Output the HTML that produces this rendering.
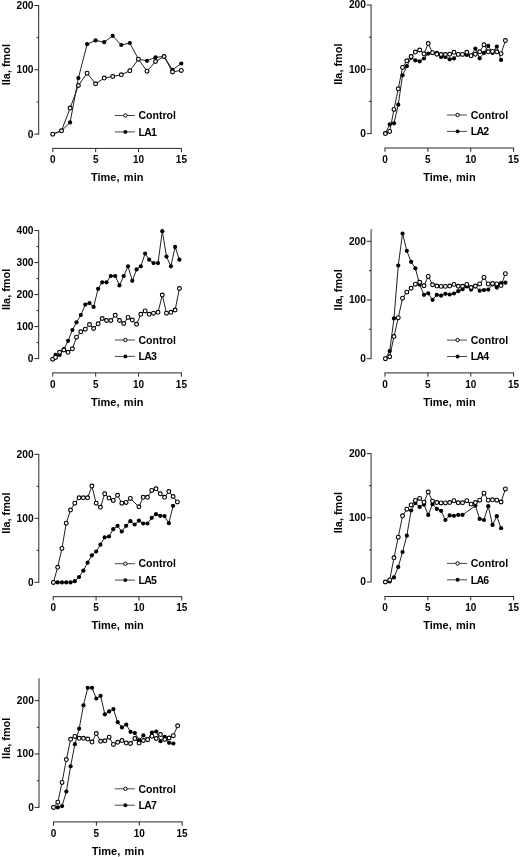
<!DOCTYPE html>
<html><head><meta charset="utf-8"><title>Figure</title>
<style>
html,body{margin:0;padding:0;background:#fff;}
body{width:520px;height:857px;overflow:hidden;font-family:'Liberation Sans', sans-serif;}
svg{display:block;filter:blur(0.35px);}
svg text{font-family:'Liberation Sans', sans-serif;font-weight:bold;fill:#000;}
</style></head>
<body>
<svg width="520" height="857" viewBox="0 0 520 857">
<rect width="520" height="857" fill="#fff"/>
<line x1="38.70" y1="5.10" x2="38.70" y2="134.50" stroke="#1c1c1c" stroke-width="0.95"/>
<line x1="34.40" y1="134.10" x2="38.70" y2="134.10" stroke="#1c1c1c" stroke-width="0.95"/>
<text x="33.50" y="137.55" font-size="10.2" text-anchor="end" >0</text>
<line x1="36.60" y1="101.95" x2="38.70" y2="101.95" stroke="#1c1c1c" stroke-width="0.95"/>
<line x1="34.40" y1="69.80" x2="38.70" y2="69.80" stroke="#1c1c1c" stroke-width="0.95"/>
<text x="33.50" y="73.25" font-size="10.2" text-anchor="end" >100</text>
<line x1="36.60" y1="37.65" x2="38.70" y2="37.65" stroke="#1c1c1c" stroke-width="0.95"/>
<line x1="34.40" y1="5.50" x2="38.70" y2="5.50" stroke="#1c1c1c" stroke-width="0.95"/>
<text x="33.50" y="8.95" font-size="10.2" text-anchor="end" >200</text>
<line x1="52.40" y1="148.40" x2="181.83" y2="148.40" stroke="#1c1c1c" stroke-width="0.95"/>
<line x1="52.80" y1="148.40" x2="52.80" y2="152.20" stroke="#1c1c1c" stroke-width="0.95"/>
<text x="52.80" y="163.00" font-size="10.0" text-anchor="middle" >0</text>
<line x1="95.67" y1="148.40" x2="95.67" y2="152.20" stroke="#1c1c1c" stroke-width="0.95"/>
<text x="95.67" y="163.00" font-size="10.0" text-anchor="middle" >5</text>
<line x1="138.55" y1="148.40" x2="138.55" y2="152.20" stroke="#1c1c1c" stroke-width="0.95"/>
<text x="138.55" y="163.00" font-size="10.0" text-anchor="middle" >10</text>
<line x1="181.43" y1="148.40" x2="181.43" y2="152.20" stroke="#1c1c1c" stroke-width="0.95"/>
<text x="181.43" y="163.00" font-size="10.0" text-anchor="middle" >15</text>
<text x="117.21" y="181.15" font-size="11.0" text-anchor="middle" word-spacing="1.3">Time, min</text>
<text transform="translate(9.90,64.60) rotate(-90)" font-size="10.9" text-anchor="middle">IIa, fmol</text>
<line x1="114.80" y1="115.50" x2="134.80" y2="115.50" stroke="#333" stroke-width="0.9"/>
<circle cx="125.40" cy="115.50" r="1.7" fill="#fff" stroke="#000" stroke-width="1.0"/>
<text x="138.50" y="119.25" font-size="10.55" text-anchor="start" >Control</text>
<line x1="114.80" y1="131.90" x2="134.80" y2="131.90" stroke="#333" stroke-width="0.9"/>
<circle cx="125.40" cy="131.90" r="1.95" fill="#000"/>
<text x="138.50" y="135.65" font-size="10.55" text-anchor="start" letter-spacing="-0.75">LA1</text>
<polyline points="52.70,134.20 61.50,130.80 70.10,122.40 78.40,78.10 87.10,44.20 95.60,40.40 104.20,42.20 112.70,35.80 121.30,45.00 129.80,43.00 138.40,59.20 147.00,60.80 155.50,57.30 164.10,56.50 172.50,69.90 181.30,63.50" fill="none" stroke="#141414" stroke-width="0.95" stroke-linejoin="round"/>
<circle cx="52.70" cy="134.20" r="2.1" fill="#000"/>
<circle cx="61.50" cy="130.80" r="2.1" fill="#000"/>
<circle cx="70.10" cy="122.40" r="2.1" fill="#000"/>
<circle cx="78.40" cy="78.10" r="2.1" fill="#000"/>
<circle cx="87.10" cy="44.20" r="2.1" fill="#000"/>
<circle cx="95.60" cy="40.40" r="2.1" fill="#000"/>
<circle cx="104.20" cy="42.20" r="2.1" fill="#000"/>
<circle cx="112.70" cy="35.80" r="2.1" fill="#000"/>
<circle cx="121.30" cy="45.00" r="2.1" fill="#000"/>
<circle cx="129.80" cy="43.00" r="2.1" fill="#000"/>
<circle cx="138.40" cy="59.20" r="2.1" fill="#000"/>
<circle cx="147.00" cy="60.80" r="2.1" fill="#000"/>
<circle cx="155.50" cy="57.30" r="2.1" fill="#000"/>
<circle cx="164.10" cy="56.50" r="2.1" fill="#000"/>
<circle cx="172.50" cy="69.90" r="2.1" fill="#000"/>
<circle cx="181.30" cy="63.50" r="2.1" fill="#000"/>
<polyline points="52.70,134.20 61.50,130.80 70.10,108.10 78.40,85.50 87.10,73.20 95.60,83.80 104.20,78.10 112.70,76.50 121.30,74.80 129.80,70.80 138.40,59.20 147.00,71.20 155.50,61.50 164.10,56.50 172.50,71.90 181.30,70.40" fill="none" stroke="#141414" stroke-width="0.95" stroke-linejoin="round"/>
<circle cx="52.70" cy="134.20" r="1.92" fill="#fff" stroke="#000" stroke-width="1.12"/>
<circle cx="61.50" cy="130.80" r="1.92" fill="#fff" stroke="#000" stroke-width="1.12"/>
<circle cx="70.10" cy="108.10" r="1.92" fill="#fff" stroke="#000" stroke-width="1.12"/>
<circle cx="78.40" cy="85.50" r="1.92" fill="#fff" stroke="#000" stroke-width="1.12"/>
<circle cx="87.10" cy="73.20" r="1.92" fill="#fff" stroke="#000" stroke-width="1.12"/>
<circle cx="95.60" cy="83.80" r="1.92" fill="#fff" stroke="#000" stroke-width="1.12"/>
<circle cx="104.20" cy="78.10" r="1.92" fill="#fff" stroke="#000" stroke-width="1.12"/>
<circle cx="112.70" cy="76.50" r="1.92" fill="#fff" stroke="#000" stroke-width="1.12"/>
<circle cx="121.30" cy="74.80" r="1.92" fill="#fff" stroke="#000" stroke-width="1.12"/>
<circle cx="129.80" cy="70.80" r="1.92" fill="#fff" stroke="#000" stroke-width="1.12"/>
<circle cx="138.40" cy="59.20" r="1.92" fill="#fff" stroke="#000" stroke-width="1.12"/>
<circle cx="147.00" cy="71.20" r="1.92" fill="#fff" stroke="#000" stroke-width="1.12"/>
<circle cx="155.50" cy="61.50" r="1.92" fill="#fff" stroke="#000" stroke-width="1.12"/>
<circle cx="164.10" cy="56.50" r="1.92" fill="#fff" stroke="#000" stroke-width="1.12"/>
<circle cx="172.50" cy="71.90" r="1.92" fill="#fff" stroke="#000" stroke-width="1.12"/>
<circle cx="181.30" cy="70.40" r="1.92" fill="#fff" stroke="#000" stroke-width="1.12"/>
<line x1="371.10" y1="4.60" x2="371.10" y2="134.00" stroke="#1c1c1c" stroke-width="0.95"/>
<line x1="366.80" y1="133.60" x2="371.10" y2="133.60" stroke="#1c1c1c" stroke-width="0.95"/>
<text x="365.90" y="137.05" font-size="10.2" text-anchor="end" >0</text>
<line x1="369.00" y1="101.45" x2="371.10" y2="101.45" stroke="#1c1c1c" stroke-width="0.95"/>
<line x1="366.80" y1="69.30" x2="371.10" y2="69.30" stroke="#1c1c1c" stroke-width="0.95"/>
<text x="365.90" y="72.75" font-size="10.2" text-anchor="end" >100</text>
<line x1="369.00" y1="37.15" x2="371.10" y2="37.15" stroke="#1c1c1c" stroke-width="0.95"/>
<line x1="366.80" y1="5.00" x2="371.10" y2="5.00" stroke="#1c1c1c" stroke-width="0.95"/>
<text x="365.90" y="8.45" font-size="10.2" text-anchor="end" >200</text>
<line x1="384.60" y1="148.00" x2="514.02" y2="148.00" stroke="#1c1c1c" stroke-width="0.95"/>
<line x1="385.00" y1="148.00" x2="385.00" y2="151.80" stroke="#1c1c1c" stroke-width="0.95"/>
<text x="385.00" y="162.60" font-size="10.0" text-anchor="middle" >0</text>
<line x1="427.88" y1="148.00" x2="427.88" y2="151.80" stroke="#1c1c1c" stroke-width="0.95"/>
<text x="427.88" y="162.60" font-size="10.0" text-anchor="middle" >5</text>
<line x1="470.75" y1="148.00" x2="470.75" y2="151.80" stroke="#1c1c1c" stroke-width="0.95"/>
<text x="470.75" y="162.60" font-size="10.0" text-anchor="middle" >10</text>
<line x1="513.62" y1="148.00" x2="513.62" y2="151.80" stroke="#1c1c1c" stroke-width="0.95"/>
<text x="513.62" y="162.60" font-size="10.0" text-anchor="middle" >15</text>
<text x="449.41" y="180.75" font-size="11.0" text-anchor="middle" word-spacing="1.3">Time, min</text>
<text transform="translate(341.70,64.10) rotate(-90)" font-size="10.9" text-anchor="middle">IIa, fmol</text>
<line x1="447.00" y1="115.00" x2="467.00" y2="115.00" stroke="#333" stroke-width="0.9"/>
<circle cx="457.60" cy="115.00" r="1.7" fill="#fff" stroke="#000" stroke-width="1.0"/>
<text x="470.70" y="118.75" font-size="10.55" text-anchor="start" >Control</text>
<line x1="447.00" y1="131.40" x2="467.00" y2="131.40" stroke="#333" stroke-width="0.9"/>
<circle cx="457.60" cy="131.40" r="1.95" fill="#000"/>
<text x="470.70" y="135.15" font-size="10.55" text-anchor="start" letter-spacing="-0.75">LA2</text>
<polyline points="385.40,133.40 389.69,124.30 393.97,123.30 398.25,104.70 402.54,75.30 406.82,66.20 411.11,57.80 415.39,60.30 419.68,61.30 423.96,58.50 428.25,53.60 432.53,52.90 436.82,52.80 441.10,56.90 445.39,56.90 449.67,59.30 453.96,58.40 458.25,54.50 462.53,54.50 466.81,55.00 471.10,55.50 475.38,48.60 479.67,58.30 483.95,52.90 488.24,45.90 492.52,53.00 496.81,46.50 501.09,59.90" fill="none" stroke="#141414" stroke-width="0.95" stroke-linejoin="round"/>
<circle cx="385.40" cy="133.40" r="2.1" fill="#000"/>
<circle cx="389.69" cy="124.30" r="2.1" fill="#000"/>
<circle cx="393.97" cy="123.30" r="2.1" fill="#000"/>
<circle cx="398.25" cy="104.70" r="2.1" fill="#000"/>
<circle cx="402.54" cy="75.30" r="2.1" fill="#000"/>
<circle cx="406.82" cy="66.20" r="2.1" fill="#000"/>
<circle cx="411.11" cy="57.80" r="2.1" fill="#000"/>
<circle cx="415.39" cy="60.30" r="2.1" fill="#000"/>
<circle cx="419.68" cy="61.30" r="2.1" fill="#000"/>
<circle cx="423.96" cy="58.50" r="2.1" fill="#000"/>
<circle cx="428.25" cy="53.60" r="2.1" fill="#000"/>
<circle cx="432.53" cy="52.90" r="2.1" fill="#000"/>
<circle cx="436.82" cy="52.80" r="2.1" fill="#000"/>
<circle cx="441.10" cy="56.90" r="2.1" fill="#000"/>
<circle cx="445.39" cy="56.90" r="2.1" fill="#000"/>
<circle cx="449.67" cy="59.30" r="2.1" fill="#000"/>
<circle cx="453.96" cy="58.40" r="2.1" fill="#000"/>
<circle cx="458.25" cy="54.50" r="2.1" fill="#000"/>
<circle cx="462.53" cy="54.50" r="2.1" fill="#000"/>
<circle cx="466.81" cy="55.00" r="2.1" fill="#000"/>
<circle cx="471.10" cy="55.50" r="2.1" fill="#000"/>
<circle cx="475.38" cy="48.60" r="2.1" fill="#000"/>
<circle cx="479.67" cy="58.30" r="2.1" fill="#000"/>
<circle cx="483.95" cy="52.90" r="2.1" fill="#000"/>
<circle cx="488.24" cy="45.90" r="2.1" fill="#000"/>
<circle cx="492.52" cy="53.00" r="2.1" fill="#000"/>
<circle cx="496.81" cy="46.50" r="2.1" fill="#000"/>
<circle cx="501.09" cy="59.90" r="2.1" fill="#000"/>
<polyline points="385.40,133.60 389.69,131.48 393.97,109.40 398.25,88.79 402.54,67.41 406.82,60.80 411.11,56.56 415.39,52.07 419.68,50.01 423.96,53.80 428.25,43.59 432.53,52.71 436.82,54.18 441.10,54.51 445.39,54.51 449.67,54.18 453.96,52.32 458.25,54.38 462.53,54.38 466.81,52.32 471.10,55.73 475.38,54.18 479.67,51.81 483.95,44.75 488.24,51.81 492.52,51.42 496.81,51.81 501.09,53.61 505.38,40.57" fill="none" stroke="#141414" stroke-width="0.95" stroke-linejoin="round"/>
<circle cx="385.40" cy="133.60" r="1.92" fill="#fff" stroke="#000" stroke-width="1.12"/>
<circle cx="389.69" cy="131.48" r="1.92" fill="#fff" stroke="#000" stroke-width="1.12"/>
<circle cx="393.97" cy="109.40" r="1.92" fill="#fff" stroke="#000" stroke-width="1.12"/>
<circle cx="398.25" cy="88.79" r="1.92" fill="#fff" stroke="#000" stroke-width="1.12"/>
<circle cx="402.54" cy="67.41" r="1.92" fill="#fff" stroke="#000" stroke-width="1.12"/>
<circle cx="406.82" cy="60.80" r="1.92" fill="#fff" stroke="#000" stroke-width="1.12"/>
<circle cx="411.11" cy="56.56" r="1.92" fill="#fff" stroke="#000" stroke-width="1.12"/>
<circle cx="415.39" cy="52.07" r="1.92" fill="#fff" stroke="#000" stroke-width="1.12"/>
<circle cx="419.68" cy="50.01" r="1.92" fill="#fff" stroke="#000" stroke-width="1.12"/>
<circle cx="423.96" cy="53.80" r="1.92" fill="#fff" stroke="#000" stroke-width="1.12"/>
<circle cx="428.25" cy="43.59" r="1.92" fill="#fff" stroke="#000" stroke-width="1.12"/>
<circle cx="432.53" cy="52.71" r="1.92" fill="#fff" stroke="#000" stroke-width="1.12"/>
<circle cx="436.82" cy="54.18" r="1.92" fill="#fff" stroke="#000" stroke-width="1.12"/>
<circle cx="441.10" cy="54.51" r="1.92" fill="#fff" stroke="#000" stroke-width="1.12"/>
<circle cx="445.39" cy="54.51" r="1.92" fill="#fff" stroke="#000" stroke-width="1.12"/>
<circle cx="449.67" cy="54.18" r="1.92" fill="#fff" stroke="#000" stroke-width="1.12"/>
<circle cx="453.96" cy="52.32" r="1.92" fill="#fff" stroke="#000" stroke-width="1.12"/>
<circle cx="458.25" cy="54.38" r="1.92" fill="#fff" stroke="#000" stroke-width="1.12"/>
<circle cx="462.53" cy="54.38" r="1.92" fill="#fff" stroke="#000" stroke-width="1.12"/>
<circle cx="466.81" cy="52.32" r="1.92" fill="#fff" stroke="#000" stroke-width="1.12"/>
<circle cx="471.10" cy="55.73" r="1.92" fill="#fff" stroke="#000" stroke-width="1.12"/>
<circle cx="475.38" cy="54.18" r="1.92" fill="#fff" stroke="#000" stroke-width="1.12"/>
<circle cx="479.67" cy="51.81" r="1.92" fill="#fff" stroke="#000" stroke-width="1.12"/>
<circle cx="483.95" cy="44.75" r="1.92" fill="#fff" stroke="#000" stroke-width="1.12"/>
<circle cx="488.24" cy="51.81" r="1.92" fill="#fff" stroke="#000" stroke-width="1.12"/>
<circle cx="492.52" cy="51.42" r="1.92" fill="#fff" stroke="#000" stroke-width="1.12"/>
<circle cx="496.81" cy="51.81" r="1.92" fill="#fff" stroke="#000" stroke-width="1.12"/>
<circle cx="501.09" cy="53.61" r="1.92" fill="#fff" stroke="#000" stroke-width="1.12"/>
<circle cx="505.38" cy="40.57" r="1.92" fill="#fff" stroke="#000" stroke-width="1.12"/>
<line x1="38.70" y1="230.10" x2="38.70" y2="359.00" stroke="#1c1c1c" stroke-width="0.95"/>
<line x1="34.40" y1="358.60" x2="38.70" y2="358.60" stroke="#1c1c1c" stroke-width="0.95"/>
<text x="33.50" y="362.05" font-size="10.2" text-anchor="end" >0</text>
<line x1="36.60" y1="342.60" x2="38.70" y2="342.60" stroke="#1c1c1c" stroke-width="0.95"/>
<line x1="34.40" y1="326.60" x2="38.70" y2="326.60" stroke="#1c1c1c" stroke-width="0.95"/>
<text x="33.50" y="330.05" font-size="10.2" text-anchor="end" >100</text>
<line x1="36.60" y1="310.60" x2="38.70" y2="310.60" stroke="#1c1c1c" stroke-width="0.95"/>
<line x1="34.40" y1="294.60" x2="38.70" y2="294.60" stroke="#1c1c1c" stroke-width="0.95"/>
<text x="33.50" y="298.05" font-size="10.2" text-anchor="end" >200</text>
<line x1="36.60" y1="278.60" x2="38.70" y2="278.60" stroke="#1c1c1c" stroke-width="0.95"/>
<line x1="34.40" y1="262.60" x2="38.70" y2="262.60" stroke="#1c1c1c" stroke-width="0.95"/>
<text x="33.50" y="266.05" font-size="10.2" text-anchor="end" >300</text>
<line x1="36.60" y1="246.60" x2="38.70" y2="246.60" stroke="#1c1c1c" stroke-width="0.95"/>
<line x1="34.40" y1="230.60" x2="38.70" y2="230.60" stroke="#1c1c1c" stroke-width="0.95"/>
<text x="33.50" y="234.05" font-size="10.2" text-anchor="end" >400</text>
<line x1="52.40" y1="372.90" x2="181.83" y2="372.90" stroke="#1c1c1c" stroke-width="0.95"/>
<line x1="52.80" y1="372.90" x2="52.80" y2="376.70" stroke="#1c1c1c" stroke-width="0.95"/>
<text x="52.80" y="387.50" font-size="10.0" text-anchor="middle" >0</text>
<line x1="95.67" y1="372.90" x2="95.67" y2="376.70" stroke="#1c1c1c" stroke-width="0.95"/>
<text x="95.67" y="387.50" font-size="10.0" text-anchor="middle" >5</text>
<line x1="138.55" y1="372.90" x2="138.55" y2="376.70" stroke="#1c1c1c" stroke-width="0.95"/>
<text x="138.55" y="387.50" font-size="10.0" text-anchor="middle" >10</text>
<line x1="181.43" y1="372.90" x2="181.43" y2="376.70" stroke="#1c1c1c" stroke-width="0.95"/>
<text x="181.43" y="387.50" font-size="10.0" text-anchor="middle" >15</text>
<text x="117.21" y="405.65" font-size="11.0" text-anchor="middle" word-spacing="1.3">Time, min</text>
<text transform="translate(9.90,289.35) rotate(-90)" font-size="10.9" text-anchor="middle">IIa, fmol</text>
<line x1="114.80" y1="340.00" x2="134.80" y2="340.00" stroke="#333" stroke-width="0.9"/>
<circle cx="125.40" cy="340.00" r="1.7" fill="#fff" stroke="#000" stroke-width="1.0"/>
<text x="138.50" y="343.75" font-size="10.55" text-anchor="start" >Control</text>
<line x1="114.80" y1="356.40" x2="134.80" y2="356.40" stroke="#333" stroke-width="0.9"/>
<circle cx="125.40" cy="356.40" r="1.95" fill="#000"/>
<text x="138.50" y="360.15" font-size="10.55" text-anchor="start" letter-spacing="-0.75">LA3</text>
<polyline points="52.70,359.20 55.50,354.90 59.60,354.90 63.90,349.20 68.10,340.80 72.40,330.00 76.50,322.30 80.80,315.10 85.30,304.60 89.50,303.10 93.60,306.90 98.10,288.80 102.20,282.30 106.50,282.30 110.80,276.00 115.20,276.00 119.50,285.40 123.70,276.00 128.00,266.30 132.30,280.80 136.60,269.40 140.80,266.30 145.10,253.50 149.20,259.70 153.50,263.10 158.00,263.10 162.30,231.20 166.50,256.60 170.90,266.30 175.10,246.90 179.40,259.70" fill="none" stroke="#141414" stroke-width="0.95" stroke-linejoin="round"/>
<circle cx="52.70" cy="359.20" r="2.1" fill="#000"/>
<circle cx="55.50" cy="354.90" r="2.1" fill="#000"/>
<circle cx="59.60" cy="354.90" r="2.1" fill="#000"/>
<circle cx="63.90" cy="349.20" r="2.1" fill="#000"/>
<circle cx="68.10" cy="340.80" r="2.1" fill="#000"/>
<circle cx="72.40" cy="330.00" r="2.1" fill="#000"/>
<circle cx="76.50" cy="322.30" r="2.1" fill="#000"/>
<circle cx="80.80" cy="315.10" r="2.1" fill="#000"/>
<circle cx="85.30" cy="304.60" r="2.1" fill="#000"/>
<circle cx="89.50" cy="303.10" r="2.1" fill="#000"/>
<circle cx="93.60" cy="306.90" r="2.1" fill="#000"/>
<circle cx="98.10" cy="288.80" r="2.1" fill="#000"/>
<circle cx="102.20" cy="282.30" r="2.1" fill="#000"/>
<circle cx="106.50" cy="282.30" r="2.1" fill="#000"/>
<circle cx="110.80" cy="276.00" r="2.1" fill="#000"/>
<circle cx="115.20" cy="276.00" r="2.1" fill="#000"/>
<circle cx="119.50" cy="285.40" r="2.1" fill="#000"/>
<circle cx="123.70" cy="276.00" r="2.1" fill="#000"/>
<circle cx="128.00" cy="266.30" r="2.1" fill="#000"/>
<circle cx="132.30" cy="280.80" r="2.1" fill="#000"/>
<circle cx="136.60" cy="269.40" r="2.1" fill="#000"/>
<circle cx="140.80" cy="266.30" r="2.1" fill="#000"/>
<circle cx="145.10" cy="253.50" r="2.1" fill="#000"/>
<circle cx="149.20" cy="259.70" r="2.1" fill="#000"/>
<circle cx="153.50" cy="263.10" r="2.1" fill="#000"/>
<circle cx="158.00" cy="263.10" r="2.1" fill="#000"/>
<circle cx="162.30" cy="231.20" r="2.1" fill="#000"/>
<circle cx="166.50" cy="256.60" r="2.1" fill="#000"/>
<circle cx="170.90" cy="266.30" r="2.1" fill="#000"/>
<circle cx="175.10" cy="246.90" r="2.1" fill="#000"/>
<circle cx="179.40" cy="259.70" r="2.1" fill="#000"/>
<polyline points="52.70,359.20 55.50,357.40 59.60,352.30 63.90,350.00 68.10,352.30 72.40,348.80 76.50,337.20 80.80,331.80 85.30,329.20 89.50,324.60 93.60,328.50 98.10,323.80 102.20,318.50 106.50,320.50 110.80,320.50 115.20,315.30 119.50,320.50 123.70,323.50 128.00,317.40 132.30,320.00 136.60,324.30 140.80,314.30 145.10,310.90 149.20,314.30 153.50,313.20 158.00,312.30 162.30,295.10 166.50,313.20 170.90,312.30 175.10,310.00 179.40,288.50" fill="none" stroke="#141414" stroke-width="0.95" stroke-linejoin="round"/>
<circle cx="52.70" cy="359.20" r="1.92" fill="#fff" stroke="#000" stroke-width="1.12"/>
<circle cx="55.50" cy="357.40" r="1.92" fill="#fff" stroke="#000" stroke-width="1.12"/>
<circle cx="59.60" cy="352.30" r="1.92" fill="#fff" stroke="#000" stroke-width="1.12"/>
<circle cx="63.90" cy="350.00" r="1.92" fill="#fff" stroke="#000" stroke-width="1.12"/>
<circle cx="68.10" cy="352.30" r="1.92" fill="#fff" stroke="#000" stroke-width="1.12"/>
<circle cx="72.40" cy="348.80" r="1.92" fill="#fff" stroke="#000" stroke-width="1.12"/>
<circle cx="76.50" cy="337.20" r="1.92" fill="#fff" stroke="#000" stroke-width="1.12"/>
<circle cx="80.80" cy="331.80" r="1.92" fill="#fff" stroke="#000" stroke-width="1.12"/>
<circle cx="85.30" cy="329.20" r="1.92" fill="#fff" stroke="#000" stroke-width="1.12"/>
<circle cx="89.50" cy="324.60" r="1.92" fill="#fff" stroke="#000" stroke-width="1.12"/>
<circle cx="93.60" cy="328.50" r="1.92" fill="#fff" stroke="#000" stroke-width="1.12"/>
<circle cx="98.10" cy="323.80" r="1.92" fill="#fff" stroke="#000" stroke-width="1.12"/>
<circle cx="102.20" cy="318.50" r="1.92" fill="#fff" stroke="#000" stroke-width="1.12"/>
<circle cx="106.50" cy="320.50" r="1.92" fill="#fff" stroke="#000" stroke-width="1.12"/>
<circle cx="110.80" cy="320.50" r="1.92" fill="#fff" stroke="#000" stroke-width="1.12"/>
<circle cx="115.20" cy="315.30" r="1.92" fill="#fff" stroke="#000" stroke-width="1.12"/>
<circle cx="119.50" cy="320.50" r="1.92" fill="#fff" stroke="#000" stroke-width="1.12"/>
<circle cx="123.70" cy="323.50" r="1.92" fill="#fff" stroke="#000" stroke-width="1.12"/>
<circle cx="128.00" cy="317.40" r="1.92" fill="#fff" stroke="#000" stroke-width="1.12"/>
<circle cx="132.30" cy="320.00" r="1.92" fill="#fff" stroke="#000" stroke-width="1.12"/>
<circle cx="136.60" cy="324.30" r="1.92" fill="#fff" stroke="#000" stroke-width="1.12"/>
<circle cx="140.80" cy="314.30" r="1.92" fill="#fff" stroke="#000" stroke-width="1.12"/>
<circle cx="145.10" cy="310.90" r="1.92" fill="#fff" stroke="#000" stroke-width="1.12"/>
<circle cx="149.20" cy="314.30" r="1.92" fill="#fff" stroke="#000" stroke-width="1.12"/>
<circle cx="153.50" cy="313.20" r="1.92" fill="#fff" stroke="#000" stroke-width="1.12"/>
<circle cx="158.00" cy="312.30" r="1.92" fill="#fff" stroke="#000" stroke-width="1.12"/>
<circle cx="162.30" cy="295.10" r="1.92" fill="#fff" stroke="#000" stroke-width="1.12"/>
<circle cx="166.50" cy="313.20" r="1.92" fill="#fff" stroke="#000" stroke-width="1.12"/>
<circle cx="170.90" cy="312.30" r="1.92" fill="#fff" stroke="#000" stroke-width="1.12"/>
<circle cx="175.10" cy="310.00" r="1.92" fill="#fff" stroke="#000" stroke-width="1.12"/>
<circle cx="179.40" cy="288.50" r="1.92" fill="#fff" stroke="#000" stroke-width="1.12"/>
<line x1="371.10" y1="229.10" x2="371.10" y2="359.10" stroke="#1c1c1c" stroke-width="0.95"/>
<line x1="366.80" y1="358.70" x2="371.10" y2="358.70" stroke="#1c1c1c" stroke-width="0.95"/>
<text x="365.90" y="362.15" font-size="10.2" text-anchor="end" >0</text>
<line x1="369.00" y1="329.34" x2="371.10" y2="329.34" stroke="#1c1c1c" stroke-width="0.95"/>
<line x1="366.80" y1="299.98" x2="371.10" y2="299.98" stroke="#1c1c1c" stroke-width="0.95"/>
<text x="365.90" y="303.43" font-size="10.2" text-anchor="end" >100</text>
<line x1="369.00" y1="270.62" x2="371.10" y2="270.62" stroke="#1c1c1c" stroke-width="0.95"/>
<line x1="366.80" y1="241.26" x2="371.10" y2="241.26" stroke="#1c1c1c" stroke-width="0.95"/>
<text x="365.90" y="244.71" font-size="10.2" text-anchor="end" >200</text>
<line x1="384.60" y1="372.90" x2="514.02" y2="372.90" stroke="#1c1c1c" stroke-width="0.95"/>
<line x1="385.00" y1="372.90" x2="385.00" y2="376.70" stroke="#1c1c1c" stroke-width="0.95"/>
<text x="385.00" y="387.50" font-size="10.0" text-anchor="middle" >0</text>
<line x1="427.88" y1="372.90" x2="427.88" y2="376.70" stroke="#1c1c1c" stroke-width="0.95"/>
<text x="427.88" y="387.50" font-size="10.0" text-anchor="middle" >5</text>
<line x1="470.75" y1="372.90" x2="470.75" y2="376.70" stroke="#1c1c1c" stroke-width="0.95"/>
<text x="470.75" y="387.50" font-size="10.0" text-anchor="middle" >10</text>
<line x1="513.62" y1="372.90" x2="513.62" y2="376.70" stroke="#1c1c1c" stroke-width="0.95"/>
<text x="513.62" y="387.50" font-size="10.0" text-anchor="middle" >15</text>
<text x="449.41" y="405.65" font-size="11.0" text-anchor="middle" word-spacing="1.3">Time, min</text>
<text transform="translate(341.70,289.80) rotate(-90)" font-size="10.9" text-anchor="middle">IIa, fmol</text>
<line x1="447.00" y1="340.10" x2="467.00" y2="340.10" stroke="#333" stroke-width="0.9"/>
<circle cx="457.60" cy="340.10" r="1.7" fill="#fff" stroke="#000" stroke-width="1.0"/>
<text x="470.70" y="343.85" font-size="10.55" text-anchor="start" >Control</text>
<line x1="447.00" y1="356.50" x2="467.00" y2="356.50" stroke="#333" stroke-width="0.9"/>
<circle cx="457.60" cy="356.50" r="1.95" fill="#000"/>
<text x="470.70" y="360.25" font-size="10.55" text-anchor="start" letter-spacing="-0.75">LA4</text>
<polyline points="385.40,358.60 389.69,351.10 393.97,318.40 398.25,265.50 402.54,233.50 406.82,250.80 411.11,261.80 415.39,268.30 419.68,284.60 423.96,294.80 428.25,293.30 432.53,299.80 436.82,294.80 441.10,295.70 445.39,293.80 449.67,294.50 453.96,293.50 458.25,291.20 462.53,289.20 466.81,286.50 471.10,289.60 475.38,286.50 479.67,290.70 483.95,290.10 488.24,289.60 492.52,284.50 496.81,287.60 501.09,283.20 505.38,282.70" fill="none" stroke="#141414" stroke-width="0.95" stroke-linejoin="round"/>
<circle cx="385.40" cy="358.60" r="2.1" fill="#000"/>
<circle cx="389.69" cy="351.10" r="2.1" fill="#000"/>
<circle cx="393.97" cy="318.40" r="2.1" fill="#000"/>
<circle cx="398.25" cy="265.50" r="2.1" fill="#000"/>
<circle cx="402.54" cy="233.50" r="2.1" fill="#000"/>
<circle cx="406.82" cy="250.80" r="2.1" fill="#000"/>
<circle cx="411.11" cy="261.80" r="2.1" fill="#000"/>
<circle cx="415.39" cy="268.30" r="2.1" fill="#000"/>
<circle cx="419.68" cy="284.60" r="2.1" fill="#000"/>
<circle cx="423.96" cy="294.80" r="2.1" fill="#000"/>
<circle cx="428.25" cy="293.30" r="2.1" fill="#000"/>
<circle cx="432.53" cy="299.80" r="2.1" fill="#000"/>
<circle cx="436.82" cy="294.80" r="2.1" fill="#000"/>
<circle cx="441.10" cy="295.70" r="2.1" fill="#000"/>
<circle cx="445.39" cy="293.80" r="2.1" fill="#000"/>
<circle cx="449.67" cy="294.50" r="2.1" fill="#000"/>
<circle cx="453.96" cy="293.50" r="2.1" fill="#000"/>
<circle cx="458.25" cy="291.20" r="2.1" fill="#000"/>
<circle cx="462.53" cy="289.20" r="2.1" fill="#000"/>
<circle cx="466.81" cy="286.50" r="2.1" fill="#000"/>
<circle cx="471.10" cy="289.60" r="2.1" fill="#000"/>
<circle cx="475.38" cy="286.50" r="2.1" fill="#000"/>
<circle cx="479.67" cy="290.70" r="2.1" fill="#000"/>
<circle cx="483.95" cy="290.10" r="2.1" fill="#000"/>
<circle cx="488.24" cy="289.60" r="2.1" fill="#000"/>
<circle cx="492.52" cy="284.50" r="2.1" fill="#000"/>
<circle cx="496.81" cy="287.60" r="2.1" fill="#000"/>
<circle cx="501.09" cy="283.20" r="2.1" fill="#000"/>
<circle cx="505.38" cy="282.70" r="2.1" fill="#000"/>
<polyline points="385.40,358.70 389.69,356.76 393.97,336.57 398.25,317.73 402.54,298.18 406.82,292.13 411.11,288.26 415.39,284.15 419.68,282.27 423.96,285.74 428.25,276.40 432.53,284.74 436.82,286.09 441.10,286.38 445.39,286.38 449.67,286.09 453.96,284.39 458.25,286.26 462.53,286.26 466.81,284.39 471.10,287.50 475.38,286.09 479.67,283.92 483.95,277.46 488.24,283.92 492.52,283.56 496.81,283.92 501.09,285.56 505.38,273.64" fill="none" stroke="#141414" stroke-width="0.95" stroke-linejoin="round"/>
<circle cx="385.40" cy="358.70" r="1.92" fill="#fff" stroke="#000" stroke-width="1.12"/>
<circle cx="389.69" cy="356.76" r="1.92" fill="#fff" stroke="#000" stroke-width="1.12"/>
<circle cx="393.97" cy="336.57" r="1.92" fill="#fff" stroke="#000" stroke-width="1.12"/>
<circle cx="398.25" cy="317.73" r="1.92" fill="#fff" stroke="#000" stroke-width="1.12"/>
<circle cx="402.54" cy="298.18" r="1.92" fill="#fff" stroke="#000" stroke-width="1.12"/>
<circle cx="406.82" cy="292.13" r="1.92" fill="#fff" stroke="#000" stroke-width="1.12"/>
<circle cx="411.11" cy="288.26" r="1.92" fill="#fff" stroke="#000" stroke-width="1.12"/>
<circle cx="415.39" cy="284.15" r="1.92" fill="#fff" stroke="#000" stroke-width="1.12"/>
<circle cx="419.68" cy="282.27" r="1.92" fill="#fff" stroke="#000" stroke-width="1.12"/>
<circle cx="423.96" cy="285.74" r="1.92" fill="#fff" stroke="#000" stroke-width="1.12"/>
<circle cx="428.25" cy="276.40" r="1.92" fill="#fff" stroke="#000" stroke-width="1.12"/>
<circle cx="432.53" cy="284.74" r="1.92" fill="#fff" stroke="#000" stroke-width="1.12"/>
<circle cx="436.82" cy="286.09" r="1.92" fill="#fff" stroke="#000" stroke-width="1.12"/>
<circle cx="441.10" cy="286.38" r="1.92" fill="#fff" stroke="#000" stroke-width="1.12"/>
<circle cx="445.39" cy="286.38" r="1.92" fill="#fff" stroke="#000" stroke-width="1.12"/>
<circle cx="449.67" cy="286.09" r="1.92" fill="#fff" stroke="#000" stroke-width="1.12"/>
<circle cx="453.96" cy="284.39" r="1.92" fill="#fff" stroke="#000" stroke-width="1.12"/>
<circle cx="458.25" cy="286.26" r="1.92" fill="#fff" stroke="#000" stroke-width="1.12"/>
<circle cx="462.53" cy="286.26" r="1.92" fill="#fff" stroke="#000" stroke-width="1.12"/>
<circle cx="466.81" cy="284.39" r="1.92" fill="#fff" stroke="#000" stroke-width="1.12"/>
<circle cx="471.10" cy="287.50" r="1.92" fill="#fff" stroke="#000" stroke-width="1.12"/>
<circle cx="475.38" cy="286.09" r="1.92" fill="#fff" stroke="#000" stroke-width="1.12"/>
<circle cx="479.67" cy="283.92" r="1.92" fill="#fff" stroke="#000" stroke-width="1.12"/>
<circle cx="483.95" cy="277.46" r="1.92" fill="#fff" stroke="#000" stroke-width="1.12"/>
<circle cx="488.24" cy="283.92" r="1.92" fill="#fff" stroke="#000" stroke-width="1.12"/>
<circle cx="492.52" cy="283.56" r="1.92" fill="#fff" stroke="#000" stroke-width="1.12"/>
<circle cx="496.81" cy="283.92" r="1.92" fill="#fff" stroke="#000" stroke-width="1.12"/>
<circle cx="501.09" cy="285.56" r="1.92" fill="#fff" stroke="#000" stroke-width="1.12"/>
<circle cx="505.38" cy="273.64" r="1.92" fill="#fff" stroke="#000" stroke-width="1.12"/>
<line x1="38.80" y1="453.85" x2="38.80" y2="582.70" stroke="#1c1c1c" stroke-width="0.95"/>
<line x1="34.50" y1="582.30" x2="38.80" y2="582.30" stroke="#1c1c1c" stroke-width="0.95"/>
<text x="33.60" y="585.75" font-size="10.2" text-anchor="end" >0</text>
<line x1="36.70" y1="550.30" x2="38.80" y2="550.30" stroke="#1c1c1c" stroke-width="0.95"/>
<line x1="34.50" y1="518.30" x2="38.80" y2="518.30" stroke="#1c1c1c" stroke-width="0.95"/>
<text x="33.60" y="521.75" font-size="10.2" text-anchor="end" >100</text>
<line x1="36.70" y1="486.30" x2="38.80" y2="486.30" stroke="#1c1c1c" stroke-width="0.95"/>
<line x1="34.50" y1="454.30" x2="38.80" y2="454.30" stroke="#1c1c1c" stroke-width="0.95"/>
<text x="33.60" y="457.75" font-size="10.2" text-anchor="end" >200</text>
<line x1="52.80" y1="596.70" x2="182.22" y2="596.70" stroke="#1c1c1c" stroke-width="0.95"/>
<line x1="53.20" y1="596.70" x2="53.20" y2="600.50" stroke="#1c1c1c" stroke-width="0.95"/>
<text x="53.20" y="611.30" font-size="10.0" text-anchor="middle" >0</text>
<line x1="96.08" y1="596.70" x2="96.08" y2="600.50" stroke="#1c1c1c" stroke-width="0.95"/>
<text x="96.08" y="611.30" font-size="10.0" text-anchor="middle" >5</text>
<line x1="138.95" y1="596.70" x2="138.95" y2="600.50" stroke="#1c1c1c" stroke-width="0.95"/>
<text x="138.95" y="611.30" font-size="10.0" text-anchor="middle" >10</text>
<line x1="181.82" y1="596.70" x2="181.82" y2="600.50" stroke="#1c1c1c" stroke-width="0.95"/>
<text x="181.82" y="611.30" font-size="10.0" text-anchor="middle" >15</text>
<text x="117.61" y="629.45" font-size="11.0" text-anchor="middle" word-spacing="1.3">Time, min</text>
<text transform="translate(9.90,513.07) rotate(-90)" font-size="10.9" text-anchor="middle">IIa, fmol</text>
<line x1="114.80" y1="563.70" x2="134.80" y2="563.70" stroke="#333" stroke-width="0.9"/>
<circle cx="125.40" cy="563.70" r="1.7" fill="#fff" stroke="#000" stroke-width="1.0"/>
<text x="138.50" y="567.45" font-size="10.55" text-anchor="start" >Control</text>
<line x1="114.80" y1="580.10" x2="134.80" y2="580.10" stroke="#333" stroke-width="0.9"/>
<circle cx="125.40" cy="580.10" r="1.95" fill="#000"/>
<text x="138.50" y="583.85" font-size="10.55" text-anchor="start" letter-spacing="-0.75">LA5</text>
<polyline points="53.40,582.40 57.67,582.40 61.95,582.40 66.22,582.40 70.50,582.40 74.78,581.20 79.05,577.00 83.33,570.70 87.60,562.70 91.88,555.30 96.15,551.50 100.43,544.70 104.70,537.30 108.97,536.50 113.25,529.20 117.53,525.80 121.80,531.50 126.08,525.80 130.35,521.20 134.62,524.50 138.90,520.70 143.18,523.50 147.45,523.50 151.72,517.80 156.00,514.20 160.28,515.80 164.55,516.10 168.83,523.20 173.10,505.80" fill="none" stroke="#141414" stroke-width="0.95" stroke-linejoin="round"/>
<circle cx="53.40" cy="582.40" r="2.1" fill="#000"/>
<circle cx="57.67" cy="582.40" r="2.1" fill="#000"/>
<circle cx="61.95" cy="582.40" r="2.1" fill="#000"/>
<circle cx="66.22" cy="582.40" r="2.1" fill="#000"/>
<circle cx="70.50" cy="582.40" r="2.1" fill="#000"/>
<circle cx="74.78" cy="581.20" r="2.1" fill="#000"/>
<circle cx="79.05" cy="577.00" r="2.1" fill="#000"/>
<circle cx="83.33" cy="570.70" r="2.1" fill="#000"/>
<circle cx="87.60" cy="562.70" r="2.1" fill="#000"/>
<circle cx="91.88" cy="555.30" r="2.1" fill="#000"/>
<circle cx="96.15" cy="551.50" r="2.1" fill="#000"/>
<circle cx="100.43" cy="544.70" r="2.1" fill="#000"/>
<circle cx="104.70" cy="537.30" r="2.1" fill="#000"/>
<circle cx="108.97" cy="536.50" r="2.1" fill="#000"/>
<circle cx="113.25" cy="529.20" r="2.1" fill="#000"/>
<circle cx="117.53" cy="525.80" r="2.1" fill="#000"/>
<circle cx="121.80" cy="531.50" r="2.1" fill="#000"/>
<circle cx="126.08" cy="525.80" r="2.1" fill="#000"/>
<circle cx="130.35" cy="521.20" r="2.1" fill="#000"/>
<circle cx="134.62" cy="524.50" r="2.1" fill="#000"/>
<circle cx="138.90" cy="520.70" r="2.1" fill="#000"/>
<circle cx="143.18" cy="523.50" r="2.1" fill="#000"/>
<circle cx="147.45" cy="523.50" r="2.1" fill="#000"/>
<circle cx="151.72" cy="517.80" r="2.1" fill="#000"/>
<circle cx="156.00" cy="514.20" r="2.1" fill="#000"/>
<circle cx="160.28" cy="515.80" r="2.1" fill="#000"/>
<circle cx="164.55" cy="516.10" r="2.1" fill="#000"/>
<circle cx="168.83" cy="523.20" r="2.1" fill="#000"/>
<circle cx="173.10" cy="505.80" r="2.1" fill="#000"/>
<polyline points="53.40,582.40 57.67,567.30 61.95,548.40 66.22,523.20 70.50,510.10 74.78,503.20 79.05,497.80 83.33,497.80 87.60,497.80 91.88,486.10 96.15,503.20 100.43,507.30 104.70,493.80 108.97,498.10 113.25,500.40 117.53,495.30 121.80,503.20 126.08,502.40 130.35,498.40 138.90,506.80 143.18,497.30 147.45,497.30 151.72,490.40 156.00,488.80 160.28,493.80 164.55,497.30 168.83,491.60 173.10,496.50 177.38,501.90" fill="none" stroke="#141414" stroke-width="0.95" stroke-linejoin="round"/>
<circle cx="53.40" cy="582.40" r="1.92" fill="#fff" stroke="#000" stroke-width="1.12"/>
<circle cx="57.67" cy="567.30" r="1.92" fill="#fff" stroke="#000" stroke-width="1.12"/>
<circle cx="61.95" cy="548.40" r="1.92" fill="#fff" stroke="#000" stroke-width="1.12"/>
<circle cx="66.22" cy="523.20" r="1.92" fill="#fff" stroke="#000" stroke-width="1.12"/>
<circle cx="70.50" cy="510.10" r="1.92" fill="#fff" stroke="#000" stroke-width="1.12"/>
<circle cx="74.78" cy="503.20" r="1.92" fill="#fff" stroke="#000" stroke-width="1.12"/>
<circle cx="79.05" cy="497.80" r="1.92" fill="#fff" stroke="#000" stroke-width="1.12"/>
<circle cx="83.33" cy="497.80" r="1.92" fill="#fff" stroke="#000" stroke-width="1.12"/>
<circle cx="87.60" cy="497.80" r="1.92" fill="#fff" stroke="#000" stroke-width="1.12"/>
<circle cx="91.88" cy="486.10" r="1.92" fill="#fff" stroke="#000" stroke-width="1.12"/>
<circle cx="96.15" cy="503.20" r="1.92" fill="#fff" stroke="#000" stroke-width="1.12"/>
<circle cx="100.43" cy="507.30" r="1.92" fill="#fff" stroke="#000" stroke-width="1.12"/>
<circle cx="104.70" cy="493.80" r="1.92" fill="#fff" stroke="#000" stroke-width="1.12"/>
<circle cx="108.97" cy="498.10" r="1.92" fill="#fff" stroke="#000" stroke-width="1.12"/>
<circle cx="113.25" cy="500.40" r="1.92" fill="#fff" stroke="#000" stroke-width="1.12"/>
<circle cx="117.53" cy="495.30" r="1.92" fill="#fff" stroke="#000" stroke-width="1.12"/>
<circle cx="121.80" cy="503.20" r="1.92" fill="#fff" stroke="#000" stroke-width="1.12"/>
<circle cx="126.08" cy="502.40" r="1.92" fill="#fff" stroke="#000" stroke-width="1.12"/>
<circle cx="130.35" cy="498.40" r="1.92" fill="#fff" stroke="#000" stroke-width="1.12"/>
<circle cx="138.90" cy="506.80" r="1.92" fill="#fff" stroke="#000" stroke-width="1.12"/>
<circle cx="143.18" cy="497.30" r="1.92" fill="#fff" stroke="#000" stroke-width="1.12"/>
<circle cx="147.45" cy="497.30" r="1.92" fill="#fff" stroke="#000" stroke-width="1.12"/>
<circle cx="151.72" cy="490.40" r="1.92" fill="#fff" stroke="#000" stroke-width="1.12"/>
<circle cx="156.00" cy="488.80" r="1.92" fill="#fff" stroke="#000" stroke-width="1.12"/>
<circle cx="160.28" cy="493.80" r="1.92" fill="#fff" stroke="#000" stroke-width="1.12"/>
<circle cx="164.55" cy="497.30" r="1.92" fill="#fff" stroke="#000" stroke-width="1.12"/>
<circle cx="168.83" cy="491.60" r="1.92" fill="#fff" stroke="#000" stroke-width="1.12"/>
<circle cx="173.10" cy="496.50" r="1.92" fill="#fff" stroke="#000" stroke-width="1.12"/>
<circle cx="177.38" cy="501.90" r="1.92" fill="#fff" stroke="#000" stroke-width="1.12"/>
<line x1="371.10" y1="453.20" x2="371.10" y2="582.40" stroke="#1c1c1c" stroke-width="0.95"/>
<line x1="366.80" y1="582.00" x2="371.10" y2="582.00" stroke="#1c1c1c" stroke-width="0.95"/>
<text x="365.90" y="585.45" font-size="10.2" text-anchor="end" >0</text>
<line x1="369.00" y1="549.90" x2="371.10" y2="549.90" stroke="#1c1c1c" stroke-width="0.95"/>
<line x1="366.80" y1="517.80" x2="371.10" y2="517.80" stroke="#1c1c1c" stroke-width="0.95"/>
<text x="365.90" y="521.25" font-size="10.2" text-anchor="end" >100</text>
<line x1="369.00" y1="485.70" x2="371.10" y2="485.70" stroke="#1c1c1c" stroke-width="0.95"/>
<line x1="366.80" y1="453.60" x2="371.10" y2="453.60" stroke="#1c1c1c" stroke-width="0.95"/>
<text x="365.90" y="457.05" font-size="10.2" text-anchor="end" >200</text>
<line x1="384.60" y1="596.50" x2="514.02" y2="596.50" stroke="#1c1c1c" stroke-width="0.95"/>
<line x1="385.00" y1="596.50" x2="385.00" y2="600.30" stroke="#1c1c1c" stroke-width="0.95"/>
<text x="385.00" y="611.10" font-size="10.0" text-anchor="middle" >0</text>
<line x1="427.88" y1="596.50" x2="427.88" y2="600.30" stroke="#1c1c1c" stroke-width="0.95"/>
<text x="427.88" y="611.10" font-size="10.0" text-anchor="middle" >5</text>
<line x1="470.75" y1="596.50" x2="470.75" y2="600.30" stroke="#1c1c1c" stroke-width="0.95"/>
<text x="470.75" y="611.10" font-size="10.0" text-anchor="middle" >10</text>
<line x1="513.62" y1="596.50" x2="513.62" y2="600.30" stroke="#1c1c1c" stroke-width="0.95"/>
<text x="513.62" y="611.10" font-size="10.0" text-anchor="middle" >15</text>
<text x="449.41" y="629.25" font-size="11.0" text-anchor="middle" word-spacing="1.3">Time, min</text>
<text transform="translate(341.70,512.60) rotate(-90)" font-size="10.9" text-anchor="middle">IIa, fmol</text>
<line x1="447.00" y1="563.40" x2="467.00" y2="563.40" stroke="#333" stroke-width="0.9"/>
<circle cx="457.60" cy="563.40" r="1.7" fill="#fff" stroke="#000" stroke-width="1.0"/>
<text x="470.70" y="567.15" font-size="10.55" text-anchor="start" >Control</text>
<line x1="447.00" y1="579.80" x2="467.00" y2="579.80" stroke="#333" stroke-width="0.9"/>
<circle cx="457.60" cy="579.80" r="1.95" fill="#000"/>
<text x="470.70" y="583.55" font-size="10.55" text-anchor="start" letter-spacing="-0.75">LA6</text>
<polyline points="385.40,582.00 389.69,581.50 393.97,577.40 398.25,566.90 402.54,552.00 406.82,535.70 411.11,510.50 415.39,503.00 419.68,506.90 423.96,504.60 428.25,514.90 432.53,504.20 436.82,508.90 441.10,510.80 445.39,520.00 449.67,515.40 453.96,515.80 458.25,514.90 462.53,514.90 475.38,505.70 479.67,518.90 483.95,520.00 488.24,506.20 492.52,524.90 496.81,516.20 501.09,528.20" fill="none" stroke="#141414" stroke-width="0.95" stroke-linejoin="round"/>
<circle cx="385.40" cy="582.00" r="2.1" fill="#000"/>
<circle cx="389.69" cy="581.50" r="2.1" fill="#000"/>
<circle cx="393.97" cy="577.40" r="2.1" fill="#000"/>
<circle cx="398.25" cy="566.90" r="2.1" fill="#000"/>
<circle cx="402.54" cy="552.00" r="2.1" fill="#000"/>
<circle cx="406.82" cy="535.70" r="2.1" fill="#000"/>
<circle cx="411.11" cy="510.50" r="2.1" fill="#000"/>
<circle cx="415.39" cy="503.00" r="2.1" fill="#000"/>
<circle cx="419.68" cy="506.90" r="2.1" fill="#000"/>
<circle cx="423.96" cy="504.60" r="2.1" fill="#000"/>
<circle cx="428.25" cy="514.90" r="2.1" fill="#000"/>
<circle cx="432.53" cy="504.20" r="2.1" fill="#000"/>
<circle cx="436.82" cy="508.90" r="2.1" fill="#000"/>
<circle cx="441.10" cy="510.80" r="2.1" fill="#000"/>
<circle cx="445.39" cy="520.00" r="2.1" fill="#000"/>
<circle cx="449.67" cy="515.40" r="2.1" fill="#000"/>
<circle cx="453.96" cy="515.80" r="2.1" fill="#000"/>
<circle cx="458.25" cy="514.90" r="2.1" fill="#000"/>
<circle cx="462.53" cy="514.90" r="2.1" fill="#000"/>
<circle cx="475.38" cy="505.70" r="2.1" fill="#000"/>
<circle cx="479.67" cy="518.90" r="2.1" fill="#000"/>
<circle cx="483.95" cy="520.00" r="2.1" fill="#000"/>
<circle cx="488.24" cy="506.20" r="2.1" fill="#000"/>
<circle cx="492.52" cy="524.90" r="2.1" fill="#000"/>
<circle cx="496.81" cy="516.20" r="2.1" fill="#000"/>
<circle cx="501.09" cy="528.20" r="2.1" fill="#000"/>
<polyline points="385.40,582.00 389.69,579.88 393.97,557.80 398.25,537.19 402.54,515.81 406.82,509.20 411.11,504.96 415.39,500.47 419.68,498.41 423.96,502.20 428.25,491.99 432.53,501.11 436.82,502.58 441.10,502.91 445.39,502.91 449.67,502.58 453.96,500.72 458.25,502.78 462.53,502.78 466.81,500.72 471.10,504.13 475.38,502.58 479.67,500.21 483.95,493.15 488.24,500.21 492.52,499.82 496.81,500.21 501.09,502.01 505.38,488.97" fill="none" stroke="#141414" stroke-width="0.95" stroke-linejoin="round"/>
<circle cx="385.40" cy="582.00" r="1.92" fill="#fff" stroke="#000" stroke-width="1.12"/>
<circle cx="389.69" cy="579.88" r="1.92" fill="#fff" stroke="#000" stroke-width="1.12"/>
<circle cx="393.97" cy="557.80" r="1.92" fill="#fff" stroke="#000" stroke-width="1.12"/>
<circle cx="398.25" cy="537.19" r="1.92" fill="#fff" stroke="#000" stroke-width="1.12"/>
<circle cx="402.54" cy="515.81" r="1.92" fill="#fff" stroke="#000" stroke-width="1.12"/>
<circle cx="406.82" cy="509.20" r="1.92" fill="#fff" stroke="#000" stroke-width="1.12"/>
<circle cx="411.11" cy="504.96" r="1.92" fill="#fff" stroke="#000" stroke-width="1.12"/>
<circle cx="415.39" cy="500.47" r="1.92" fill="#fff" stroke="#000" stroke-width="1.12"/>
<circle cx="419.68" cy="498.41" r="1.92" fill="#fff" stroke="#000" stroke-width="1.12"/>
<circle cx="423.96" cy="502.20" r="1.92" fill="#fff" stroke="#000" stroke-width="1.12"/>
<circle cx="428.25" cy="491.99" r="1.92" fill="#fff" stroke="#000" stroke-width="1.12"/>
<circle cx="432.53" cy="501.11" r="1.92" fill="#fff" stroke="#000" stroke-width="1.12"/>
<circle cx="436.82" cy="502.58" r="1.92" fill="#fff" stroke="#000" stroke-width="1.12"/>
<circle cx="441.10" cy="502.91" r="1.92" fill="#fff" stroke="#000" stroke-width="1.12"/>
<circle cx="445.39" cy="502.91" r="1.92" fill="#fff" stroke="#000" stroke-width="1.12"/>
<circle cx="449.67" cy="502.58" r="1.92" fill="#fff" stroke="#000" stroke-width="1.12"/>
<circle cx="453.96" cy="500.72" r="1.92" fill="#fff" stroke="#000" stroke-width="1.12"/>
<circle cx="458.25" cy="502.78" r="1.92" fill="#fff" stroke="#000" stroke-width="1.12"/>
<circle cx="462.53" cy="502.78" r="1.92" fill="#fff" stroke="#000" stroke-width="1.12"/>
<circle cx="466.81" cy="500.72" r="1.92" fill="#fff" stroke="#000" stroke-width="1.12"/>
<circle cx="471.10" cy="504.13" r="1.92" fill="#fff" stroke="#000" stroke-width="1.12"/>
<circle cx="475.38" cy="502.58" r="1.92" fill="#fff" stroke="#000" stroke-width="1.12"/>
<circle cx="479.67" cy="500.21" r="1.92" fill="#fff" stroke="#000" stroke-width="1.12"/>
<circle cx="483.95" cy="493.15" r="1.92" fill="#fff" stroke="#000" stroke-width="1.12"/>
<circle cx="488.24" cy="500.21" r="1.92" fill="#fff" stroke="#000" stroke-width="1.12"/>
<circle cx="492.52" cy="499.82" r="1.92" fill="#fff" stroke="#000" stroke-width="1.12"/>
<circle cx="496.81" cy="500.21" r="1.92" fill="#fff" stroke="#000" stroke-width="1.12"/>
<circle cx="501.09" cy="502.01" r="1.92" fill="#fff" stroke="#000" stroke-width="1.12"/>
<circle cx="505.38" cy="488.97" r="1.92" fill="#fff" stroke="#000" stroke-width="1.12"/>
<line x1="39.00" y1="678.35" x2="39.00" y2="807.80" stroke="#1c1c1c" stroke-width="0.95"/>
<line x1="34.70" y1="807.40" x2="39.00" y2="807.40" stroke="#1c1c1c" stroke-width="0.95"/>
<text x="33.80" y="810.85" font-size="10.2" text-anchor="end" >0</text>
<line x1="36.90" y1="780.70" x2="39.00" y2="780.70" stroke="#1c1c1c" stroke-width="0.95"/>
<line x1="34.70" y1="754.00" x2="39.00" y2="754.00" stroke="#1c1c1c" stroke-width="0.95"/>
<text x="33.80" y="757.45" font-size="10.2" text-anchor="end" >100</text>
<line x1="36.90" y1="727.30" x2="39.00" y2="727.30" stroke="#1c1c1c" stroke-width="0.95"/>
<line x1="34.70" y1="700.60" x2="39.00" y2="700.60" stroke="#1c1c1c" stroke-width="0.95"/>
<text x="33.80" y="704.05" font-size="10.2" text-anchor="end" >200</text>
<line x1="53.10" y1="821.90" x2="182.53" y2="821.90" stroke="#1c1c1c" stroke-width="0.95"/>
<line x1="53.50" y1="821.90" x2="53.50" y2="825.70" stroke="#1c1c1c" stroke-width="0.95"/>
<text x="53.50" y="836.50" font-size="10.0" text-anchor="middle" >0</text>
<line x1="96.38" y1="821.90" x2="96.38" y2="825.70" stroke="#1c1c1c" stroke-width="0.95"/>
<text x="96.38" y="836.50" font-size="10.0" text-anchor="middle" >5</text>
<line x1="139.25" y1="821.90" x2="139.25" y2="825.70" stroke="#1c1c1c" stroke-width="0.95"/>
<text x="139.25" y="836.50" font-size="10.0" text-anchor="middle" >10</text>
<line x1="182.12" y1="821.90" x2="182.12" y2="825.70" stroke="#1c1c1c" stroke-width="0.95"/>
<text x="182.12" y="836.50" font-size="10.0" text-anchor="middle" >15</text>
<text x="117.91" y="854.65" font-size="11.0" text-anchor="middle" word-spacing="1.3">Time, min</text>
<text transform="translate(10.10,738.30) rotate(-90)" font-size="10.9" text-anchor="middle">IIa, fmol</text>
<line x1="114.80" y1="788.80" x2="134.80" y2="788.80" stroke="#333" stroke-width="0.9"/>
<circle cx="125.40" cy="788.80" r="1.7" fill="#fff" stroke="#000" stroke-width="1.0"/>
<text x="138.50" y="792.55" font-size="10.55" text-anchor="start" >Control</text>
<line x1="114.80" y1="805.20" x2="134.80" y2="805.20" stroke="#333" stroke-width="0.9"/>
<circle cx="125.40" cy="805.20" r="1.95" fill="#000"/>
<text x="138.50" y="808.95" font-size="10.55" text-anchor="start" letter-spacing="-0.75">LA7</text>
<polyline points="53.50,807.40 57.78,807.40 62.06,806.10 66.34,791.60 70.62,766.30 74.90,744.20 79.18,728.70 83.46,705.30 87.74,687.80 92.02,687.80 96.30,698.50 100.58,695.80 104.86,714.30 109.14,711.40 113.42,709.10 117.70,722.20 121.98,727.40 126.26,724.60 130.54,731.80 134.82,733.10 139.10,740.00 143.38,735.40 147.66,739.20 151.94,732.60 156.22,731.50 160.50,741.20 164.78,736.90 169.06,742.80 173.34,743.50" fill="none" stroke="#141414" stroke-width="0.95" stroke-linejoin="round"/>
<circle cx="53.50" cy="807.40" r="2.1" fill="#000"/>
<circle cx="57.78" cy="807.40" r="2.1" fill="#000"/>
<circle cx="62.06" cy="806.10" r="2.1" fill="#000"/>
<circle cx="66.34" cy="791.60" r="2.1" fill="#000"/>
<circle cx="70.62" cy="766.30" r="2.1" fill="#000"/>
<circle cx="74.90" cy="744.20" r="2.1" fill="#000"/>
<circle cx="79.18" cy="728.70" r="2.1" fill="#000"/>
<circle cx="83.46" cy="705.30" r="2.1" fill="#000"/>
<circle cx="87.74" cy="687.80" r="2.1" fill="#000"/>
<circle cx="92.02" cy="687.80" r="2.1" fill="#000"/>
<circle cx="96.30" cy="698.50" r="2.1" fill="#000"/>
<circle cx="100.58" cy="695.80" r="2.1" fill="#000"/>
<circle cx="104.86" cy="714.30" r="2.1" fill="#000"/>
<circle cx="109.14" cy="711.40" r="2.1" fill="#000"/>
<circle cx="113.42" cy="709.10" r="2.1" fill="#000"/>
<circle cx="117.70" cy="722.20" r="2.1" fill="#000"/>
<circle cx="121.98" cy="727.40" r="2.1" fill="#000"/>
<circle cx="126.26" cy="724.60" r="2.1" fill="#000"/>
<circle cx="130.54" cy="731.80" r="2.1" fill="#000"/>
<circle cx="134.82" cy="733.10" r="2.1" fill="#000"/>
<circle cx="139.10" cy="740.00" r="2.1" fill="#000"/>
<circle cx="143.38" cy="735.40" r="2.1" fill="#000"/>
<circle cx="147.66" cy="739.20" r="2.1" fill="#000"/>
<circle cx="151.94" cy="732.60" r="2.1" fill="#000"/>
<circle cx="156.22" cy="731.50" r="2.1" fill="#000"/>
<circle cx="160.50" cy="741.20" r="2.1" fill="#000"/>
<circle cx="164.78" cy="736.90" r="2.1" fill="#000"/>
<circle cx="169.06" cy="742.80" r="2.1" fill="#000"/>
<circle cx="173.34" cy="743.50" r="2.1" fill="#000"/>
<polyline points="53.50,807.40 57.78,802.20 62.06,782.40 66.34,759.60 70.62,739.30 74.90,736.40 79.18,738.30 83.46,738.30 87.74,739.10 92.02,742.10 96.30,733.60 100.58,741.30 104.86,740.80 109.14,737.20 113.42,744.40 117.70,742.30 121.98,740.60 126.26,743.10 130.54,743.50 134.82,738.50 139.10,743.10 143.38,740.50 147.66,739.70 151.94,736.20 156.22,738.50 160.50,734.60 164.78,739.50 169.06,738.00 173.34,735.70 177.62,725.80" fill="none" stroke="#141414" stroke-width="0.95" stroke-linejoin="round"/>
<circle cx="53.50" cy="807.40" r="1.92" fill="#fff" stroke="#000" stroke-width="1.12"/>
<circle cx="57.78" cy="802.20" r="1.92" fill="#fff" stroke="#000" stroke-width="1.12"/>
<circle cx="62.06" cy="782.40" r="1.92" fill="#fff" stroke="#000" stroke-width="1.12"/>
<circle cx="66.34" cy="759.60" r="1.92" fill="#fff" stroke="#000" stroke-width="1.12"/>
<circle cx="70.62" cy="739.30" r="1.92" fill="#fff" stroke="#000" stroke-width="1.12"/>
<circle cx="74.90" cy="736.40" r="1.92" fill="#fff" stroke="#000" stroke-width="1.12"/>
<circle cx="79.18" cy="738.30" r="1.92" fill="#fff" stroke="#000" stroke-width="1.12"/>
<circle cx="83.46" cy="738.30" r="1.92" fill="#fff" stroke="#000" stroke-width="1.12"/>
<circle cx="87.74" cy="739.10" r="1.92" fill="#fff" stroke="#000" stroke-width="1.12"/>
<circle cx="92.02" cy="742.10" r="1.92" fill="#fff" stroke="#000" stroke-width="1.12"/>
<circle cx="96.30" cy="733.60" r="1.92" fill="#fff" stroke="#000" stroke-width="1.12"/>
<circle cx="100.58" cy="741.30" r="1.92" fill="#fff" stroke="#000" stroke-width="1.12"/>
<circle cx="104.86" cy="740.80" r="1.92" fill="#fff" stroke="#000" stroke-width="1.12"/>
<circle cx="109.14" cy="737.20" r="1.92" fill="#fff" stroke="#000" stroke-width="1.12"/>
<circle cx="113.42" cy="744.40" r="1.92" fill="#fff" stroke="#000" stroke-width="1.12"/>
<circle cx="117.70" cy="742.30" r="1.92" fill="#fff" stroke="#000" stroke-width="1.12"/>
<circle cx="121.98" cy="740.60" r="1.92" fill="#fff" stroke="#000" stroke-width="1.12"/>
<circle cx="126.26" cy="743.10" r="1.92" fill="#fff" stroke="#000" stroke-width="1.12"/>
<circle cx="130.54" cy="743.50" r="1.92" fill="#fff" stroke="#000" stroke-width="1.12"/>
<circle cx="134.82" cy="738.50" r="1.92" fill="#fff" stroke="#000" stroke-width="1.12"/>
<circle cx="139.10" cy="743.10" r="1.92" fill="#fff" stroke="#000" stroke-width="1.12"/>
<circle cx="143.38" cy="740.50" r="1.92" fill="#fff" stroke="#000" stroke-width="1.12"/>
<circle cx="147.66" cy="739.70" r="1.92" fill="#fff" stroke="#000" stroke-width="1.12"/>
<circle cx="151.94" cy="736.20" r="1.92" fill="#fff" stroke="#000" stroke-width="1.12"/>
<circle cx="156.22" cy="738.50" r="1.92" fill="#fff" stroke="#000" stroke-width="1.12"/>
<circle cx="160.50" cy="734.60" r="1.92" fill="#fff" stroke="#000" stroke-width="1.12"/>
<circle cx="164.78" cy="739.50" r="1.92" fill="#fff" stroke="#000" stroke-width="1.12"/>
<circle cx="169.06" cy="738.00" r="1.92" fill="#fff" stroke="#000" stroke-width="1.12"/>
<circle cx="173.34" cy="735.70" r="1.92" fill="#fff" stroke="#000" stroke-width="1.12"/>
<circle cx="177.62" cy="725.80" r="1.92" fill="#fff" stroke="#000" stroke-width="1.12"/>
</svg>
</body></html>
